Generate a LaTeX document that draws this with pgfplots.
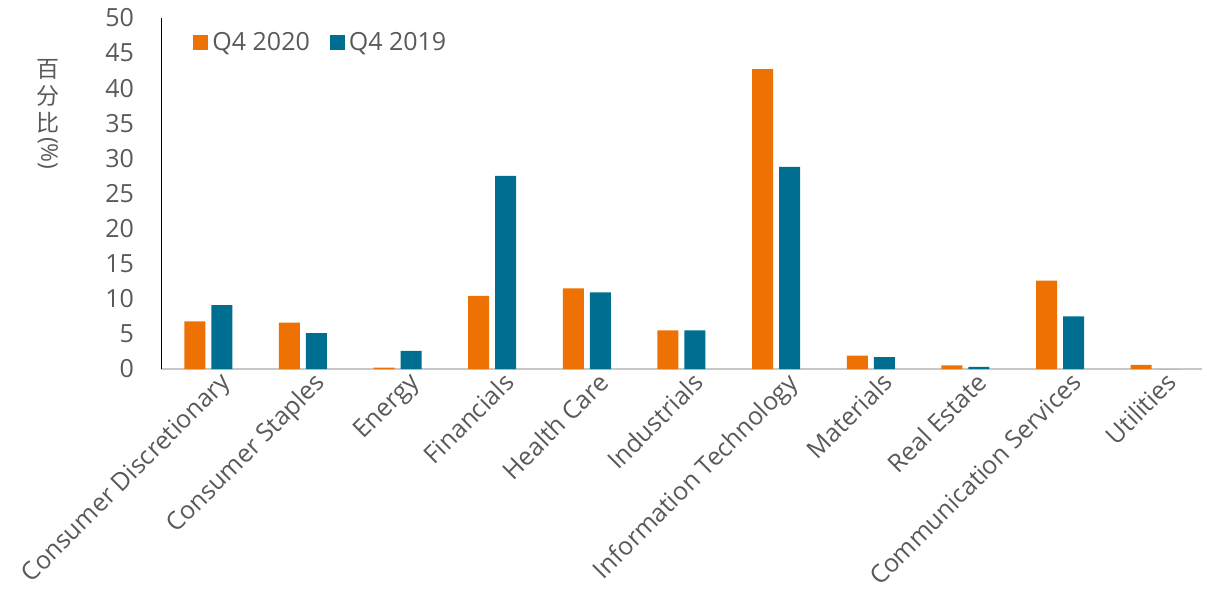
\documentclass[border=0pt]{standalone}
\usepackage{pgfplots}
\pgfplotsset{compat=1.18}
\usepackage{fontspec}
\setmainfont{Open Sans}
\newfontfamily\cjk{Noto Sans CJK SC}
\definecolor{qorange}{RGB}{238,114,3}
\definecolor{qblue}{RGB}{0,110,145}
\definecolor{tgray}{RGB}{89,89,89}
\definecolor{agray}{RGB}{200,200,200}
\begin{document}
\begin{tikzpicture}
\begin{axis}[
  at={(0,0)}, anchor=south west,
  width=520.5pt, height=175.5pt, scale only axis,
  ybar, bar width=10.5pt,
  ymin=0, ymax=50, ytick={0,5,...,50},
  xmin=-0.5, xmax=10.5,
  xtick={0,...,10},
  xticklabels={Consumer Discretionary,Consumer Staples,Energy,Financials,Health Care,Industrials,Information Technology,Materials,Real Estate,Communication Services,Utilities},
  x tick label style={rotate=45, anchor=north east, font=\fontsize{12.5}{14}\selectfont, text=tgray, inner sep=1pt, xshift=4pt, yshift=-3pt},
  y tick label style={font=\fontsize{12.5}{14}\selectfont, text=tgray},
  /pgf/number format/assume math mode=true,
  yticklabel style={xshift=-10pt},
  axis y line=none,
  axis x line*=bottom,
  x axis line style={agray, line width=1pt, -},
  hide y axis=false,
  major tick length=0pt,
  ymajorticks=true,
  legend style={at={(0.025,0.93)}, anchor=west, draw=none, fill=none, legend columns=2,
    font=\fontsize{12.5}{14}\selectfont, text=tgray,
    /tikz/every even column/.append style={column sep=8pt}},
  legend image code/.code={\fill[#1] (0pt,-3.75pt) rectangle (7.5pt,3.75pt);},
  clip=false,
]
\addplot[draw=none, fill=qorange, bar shift=-6.75pt] coordinates {
(0,6.8) (1,6.6) (2,0.2) (3,10.4) (4,11.5) (5,5.5) (6,42.7) (7,1.9) (8,0.5) (9,12.6) (10,0.6)};
\addplot[draw=none, fill=qblue, bar shift=6.75pt] coordinates {
(0,9.1) (1,5.1) (2,2.6) (3,27.5) (4,10.9) (5,5.5) (6,28.8) (7,1.7) (8,0.3) (9,7.5) (10,0)};
\legend{Q4 2020, Q4 2019}
\end{axis}
\node[text=tgray, inner sep=0pt, anchor=north] at (-56.5pt,155pt)
  {\fontsize{11.5}{12}\selectfont\shortstack{{\cjk 百}\\{\cjk 分}\\{\cjk 比}\\[-1pt]\rotatebox{-90}{(\%)}}};
\pgfresetboundingbox
\path[use as bounding box] (-80.5pt,-110.5pt) rectangle (523pt,184.5pt);
\end{tikzpicture}
\end{document}
